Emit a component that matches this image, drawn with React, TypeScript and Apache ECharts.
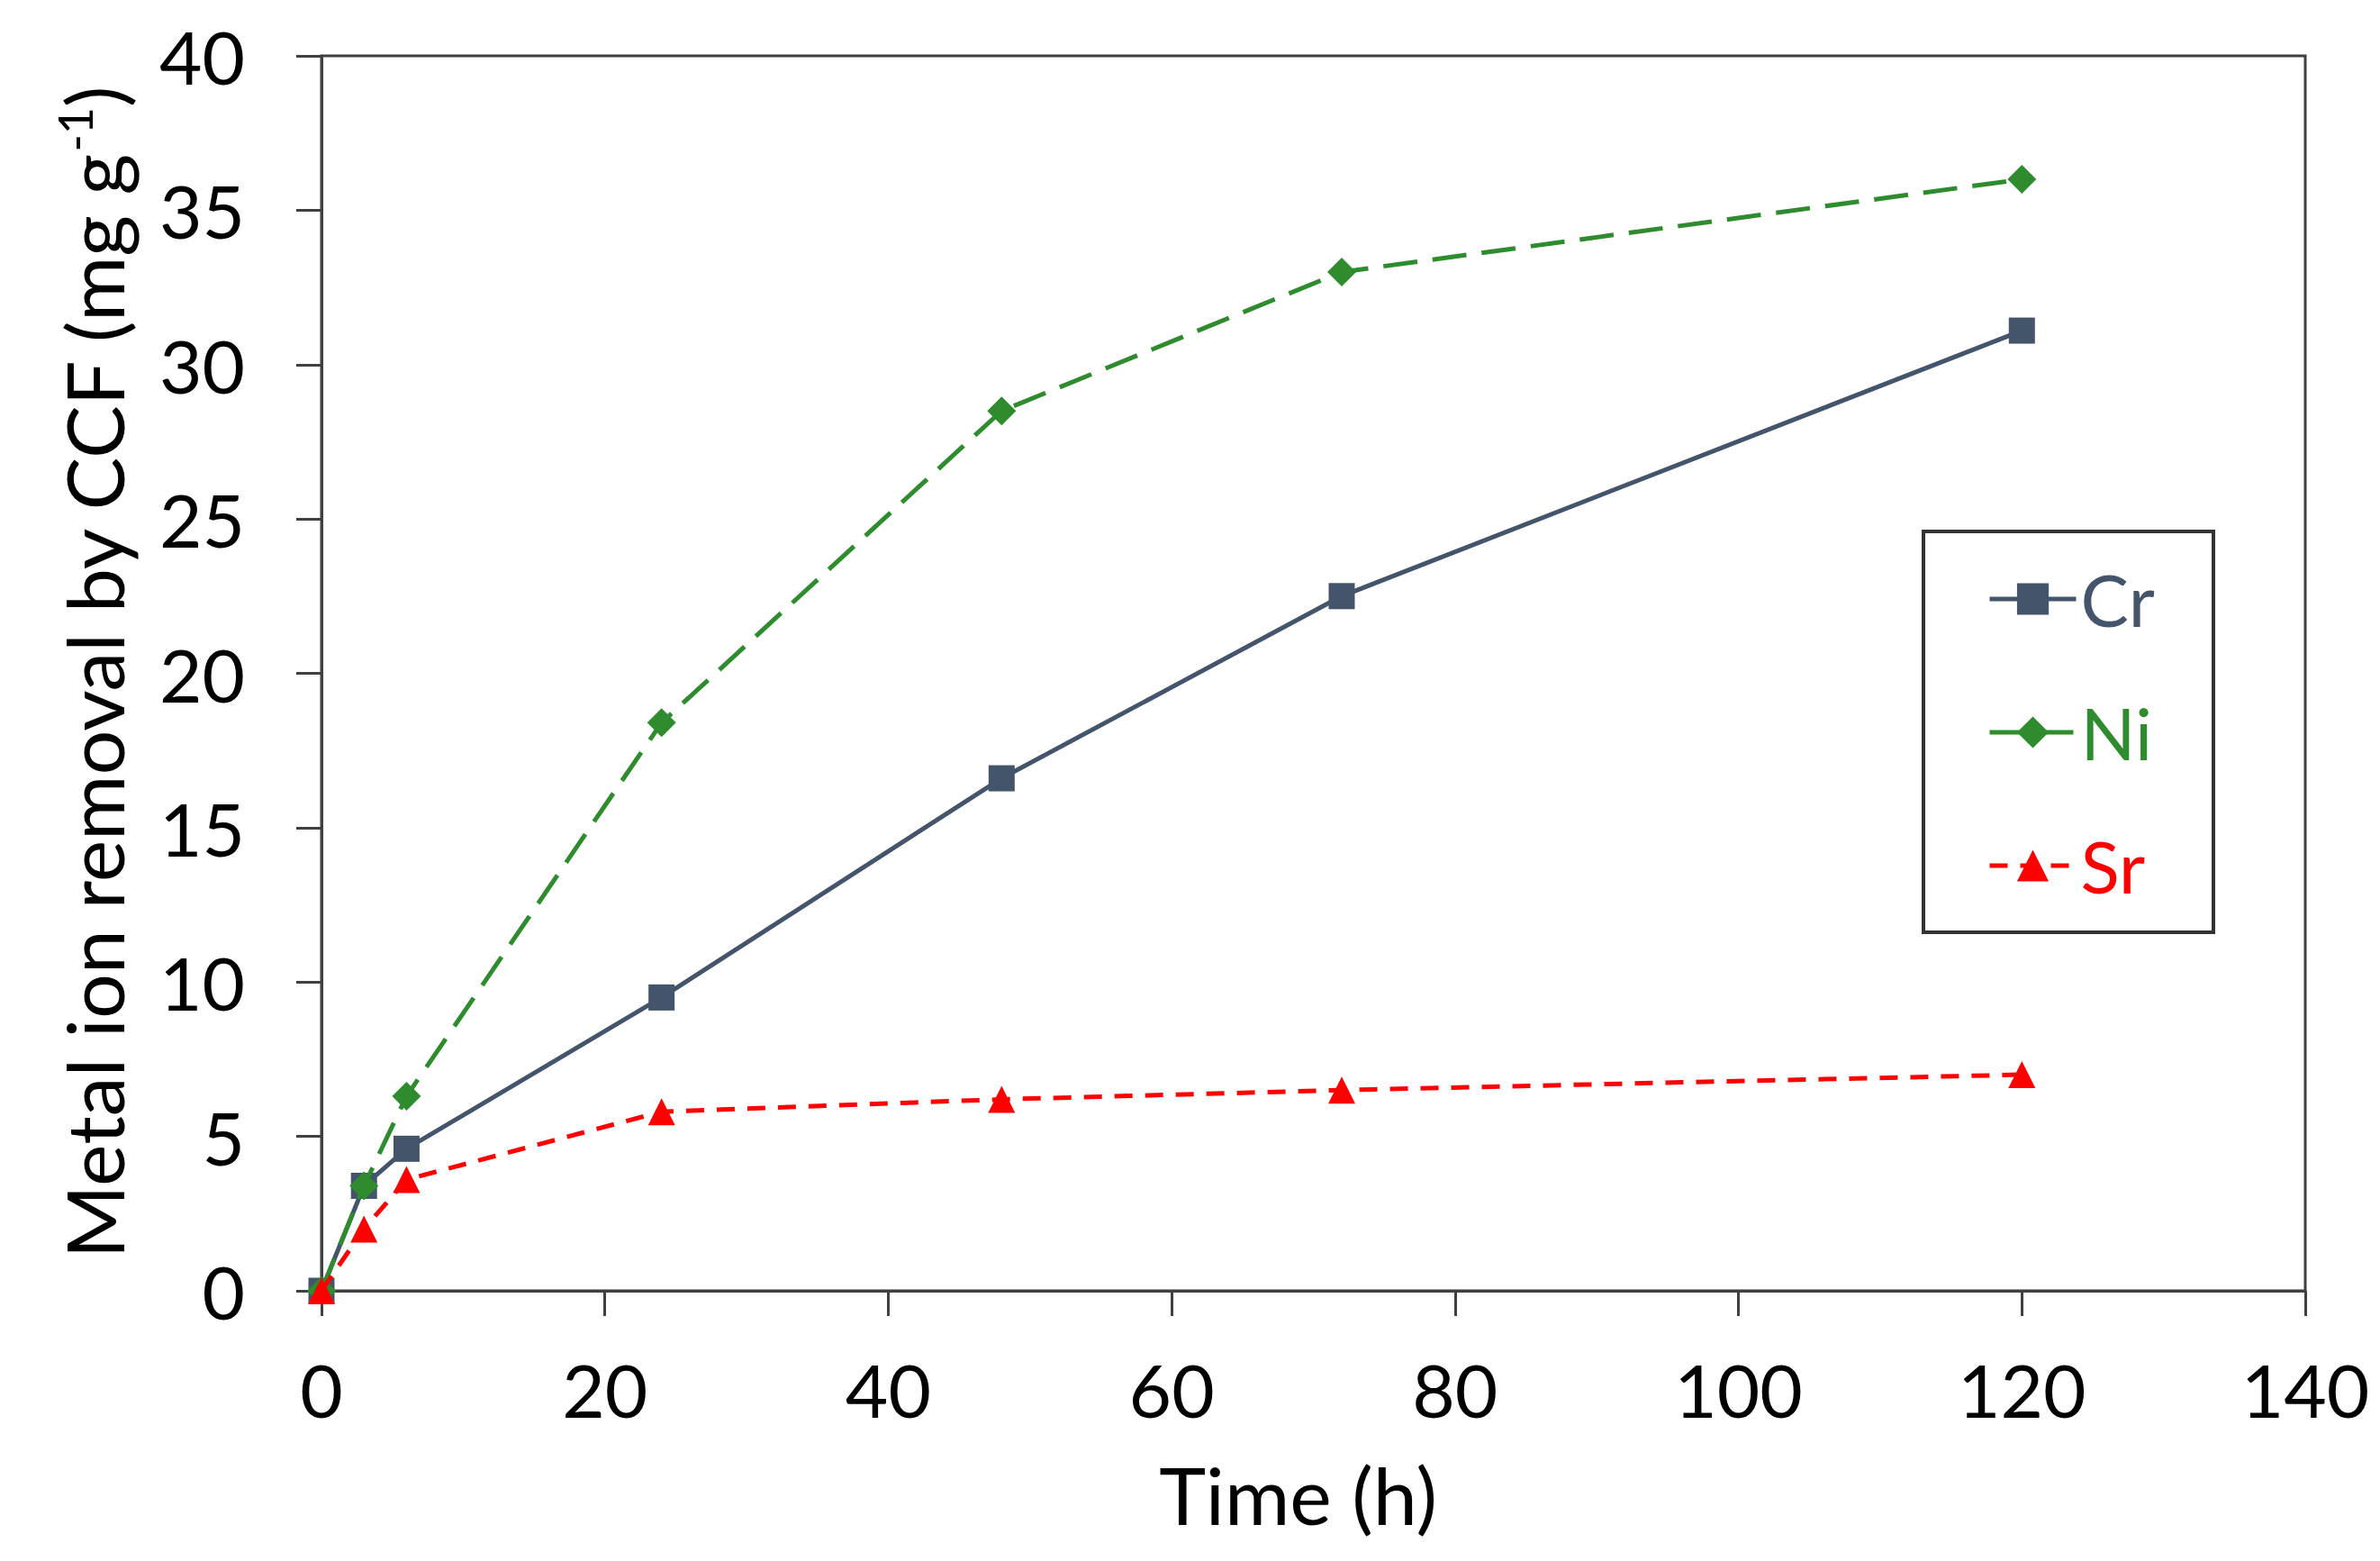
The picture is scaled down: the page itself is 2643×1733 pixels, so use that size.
import React, { useEffect, useRef } from "react";
import * as echarts from "echarts";

const timeHours = [0, 3, 6, 24, 48, 72, 120];
const crValues = [0, 3.4, 4.6, 9.5, 16.6, 22.5, 31.1];
const niValues = [0, 3.4, 6.3, 18.4, 28.5, 33.0, 36.0];
const srValues = [0, 2.0, 3.6, 5.8, 6.2, 6.5, 7.0];
const seriesNames = ["Cr", "Ni", "Sr"];
const xTitle = "Time (h)";
const yTitle = "Metal ion removal by CCF (mg g{sup|-1})";

const CR = "#44546A";
const NI = "#2E8B2E";
const SR = "#FF0000";
const AXIS = "#404040";
const FONT = "Lato";

function pairs(xs: number[], ys: number[]) {
  return xs.map((x, i) => [x, ys[i]]);
}

export default function App() {
  const ref = useRef<HTMLDivElement>(null);
  useEffect(() => {
    document.body.style.margin = "0";
    const chart = echarts.init(ref.current!, null, { renderer: "svg" });
    const option: any = {
      animation: false,
      backgroundColor: "#ffffff",
      textStyle: { fontFamily: FONT },
      grid: {
        left: 357,
        right: 83,
        top: 62,
        bottom: 300,
        show: true,
        borderColor: AXIS,
        borderWidth: 3,
        backgroundColor: "transparent",
      },
      xAxis: {
        type: "value",
        min: 0,
        max: 140,
        interval: 20,
        name: xTitle,
        nameLocation: "middle",
        nameGap: 182,
        nameTextStyle: { fontSize: 88, color: "#000", fontFamily: FONT, padding: [0, 34, 0, 0] },
        axisLine: { show: true, lineStyle: { color: AXIS, width: 3 } },
        axisTick: { show: true, inside: false, length: 28, lineStyle: { color: AXIS, width: 3 } },
        axisLabel: { fontSize: 82, color: "#000", margin: 68, fontFamily: FONT },
        splitLine: { show: false },
      },
      yAxis: {
        type: "value",
        min: 0,
        max: 40,
        interval: 5,
        name: yTitle,
        nameLocation: "middle",
        nameGap: 206,
        nameRotate: 90,
        nameTextStyle: {
          fontSize: 88,
          color: "#000",
          fontFamily: FONT,
          rich: {
            sup: { fontSize: 52, color: "#000", fontFamily: FONT, verticalAlign: "bottom", padding: [0, 0, 42, 0] },
          },
        },
        axisLine: { show: true, lineStyle: { color: AXIS, width: 3 } },
        axisTick: { show: true, inside: false, length: 28, lineStyle: { color: AXIS, width: 3 } },
        axisLabel: { fontSize: 82, color: "#000", margin: 85, fontFamily: FONT },
        splitLine: { show: false },
      },
      legend: {
        orient: "vertical",
        left: 2207,
        top: 625,
        padding: 0,
        itemWidth: 96,
        itemHeight: 44,
        itemGap: 68,
        lineStyle: { width: 5 },
        textStyle: { fontSize: 80, fontFamily: FONT, lineHeight: 80, padding: [0, 0, 0, 0] },
        data: [
          { name: seriesNames[0], textStyle: { color: CR } },
          { name: seriesNames[1], textStyle: { color: NI } },
          { name: seriesNames[2], textStyle: { color: SR } },
        ],
      },
      graphic: [
        {
          type: "rect",
          shape: { x: 2136, y: 590, width: 322, height: 445 },
          style: { fill: "none", stroke: "#333", lineWidth: 4 },
          z: 100,
        },
      ],
      series: [
        {
          name: seriesNames[0],
          type: "line",
          data: pairs(timeHours, crValues),
          symbol: "rect",
          symbolSize: 29,
          itemStyle: { color: CR },
          lineStyle: { color: CR, width: 5, type: "solid" },
          z: 3,
        },
        {
          name: seriesNames[1],
          type: "line",
          data: pairs(timeHours, niValues),
          symbol: "diamond",
          symbolSize: 32,
          itemStyle: { color: NI },
          lineStyle: { color: NI, width: 5, type: [38, 17] },
          z: 4,
        },
        {
          name: seriesNames[2],
          type: "line",
          data: pairs(timeHours, srValues),
          symbol: "triangle",
          symbolSize: 30,
          itemStyle: { color: SR },
          lineStyle: { color: SR, width: 5, type: [20, 14] },
          z: 5,
        },
      ],
    };
    chart.setOption(option);
    return () => chart.dispose();
  }, []);
  return <div ref={ref} style={{ width: 2643, height: 1733 }} />;
}
